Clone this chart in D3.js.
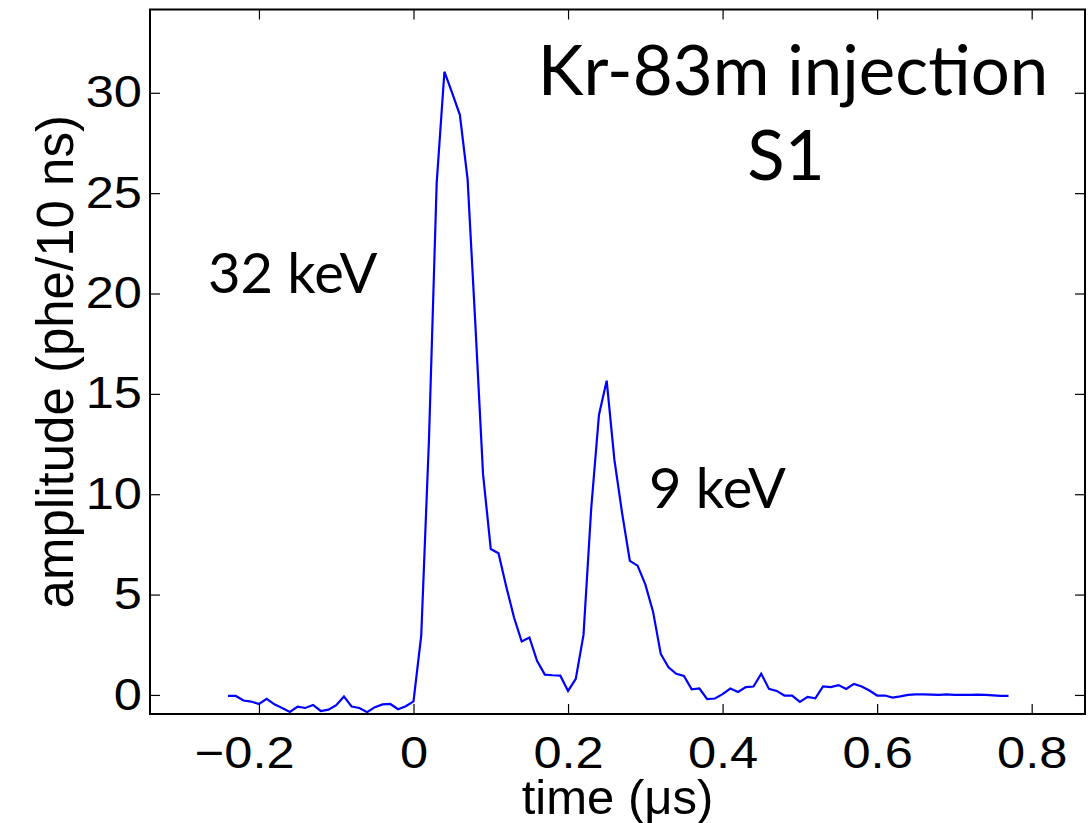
<!DOCTYPE html>
<html>
<head>
<meta charset="utf-8">
<script src="https://cdn.jsdelivr.net/npm/d3@7"></script>
<style>
  html, body { margin: 0; padding: 0; background: #fff; }
  svg { display: block; }
</style>
</head>
<body>
<svg id="chart" width="1091" height="823"></svg>
<script>
// Sampled S1 waveform, 10 ns bins (time in microseconds)
const timeUs = [
  -0.24, -0.23, -0.22, -0.21, -0.20, -0.19, -0.18, -0.17, -0.16, -0.15,
  -0.14, -0.13, -0.12, -0.11, -0.10, -0.09, -0.08, -0.07, -0.06, -0.05,
  -0.04, -0.03, -0.02, -0.01, 0.00, 0.01, 0.02, 0.03, 0.04, 0.05,
  0.06, 0.07, 0.08, 0.09, 0.10, 0.11, 0.12, 0.13, 0.14, 0.15,
  0.16, 0.17, 0.18, 0.19, 0.20, 0.21, 0.22, 0.23, 0.24, 0.25,
  0.26, 0.27, 0.28, 0.29, 0.30, 0.31, 0.32, 0.33, 0.34, 0.35,
  0.36, 0.37, 0.38, 0.39, 0.40, 0.41, 0.42, 0.43, 0.44, 0.45,
  0.46, 0.47, 0.48, 0.49, 0.50, 0.51, 0.52, 0.53, 0.54, 0.55,
  0.56, 0.57, 0.58, 0.59, 0.60, 0.61, 0.62, 0.63, 0.64, 0.65,
  0.66, 0.67, 0.68, 0.69, 0.70, 0.71, 0.72, 0.73, 0.74, 0.75,
  0.76, 0.77
];

// Amplitude in phe per 10 ns
const amplitude = [
  -0.05, -0.05, -0.28, -0.33, -0.45, -0.20, -0.47, -0.65, -0.85, -0.58,
  -0.65, -0.50, -0.80, -0.73, -0.51, -0.08, -0.58, -0.65, -0.86, -0.61,
  -0.47, -0.45, -0.71, -0.56, -0.32, 2.95, 12.7, 25.5, 31.05, 30.0,
  28.9, 25.7, 18.5, 11.0, 7.27, 7.06, 5.40, 3.87, 2.66, 2.86,
  1.69, 1.01, 0.98, 0.96, 0.20, 0.80, 2.99, 9.3, 13.95, 15.66,
  11.71, 9.05, 6.68, 6.44, 5.51, 4.15, 2.04, 1.38, 1.05, 0.95,
  0.28, 0.32, -0.21, -0.18, 0.04, 0.32, 0.15, 0.39, 0.42, 1.06,
  0.30, 0.20, -0.03, -0.03, -0.35, -0.10, -0.17, 0.42, 0.39, 0.49,
  0.30, 0.55, 0.42, 0.22, -0.03, -0.03, -0.13, -0.07, 0.00, 0.03,
  0.03, 0.02, 0.00, 0.03, 0.00, 0.00, 0.00, 0.02, 0.00, -0.02,
  -0.05, -0.05
];

const xTicks = [-0.2, 0, 0.2, 0.4, 0.6, 0.8];
const yTicks = [0, 5, 10, 15, 20, 25, 30];
const xDomain = [-0.341, 0.869];
const yDomain = [-0.95, 34.15];

const xLabel = "time (\u03bcs)";
const yLabel = "amplitude (phe/10 ns)";
const titleLines = ["Kr-83m injection", "S1"];
const peakLabels = ["32 keV", "9 keV"];

// Plot frame
const frame = { left: 150, right: 1085, top: 9.5, bottom: 714 };
const tickFont = "'Liberation Sans', Arial, Helvetica, sans-serif";
const noteFont = "Lato, 'Open Sans', sans-serif";
const tickStretch = 1.15;

const svg = d3.select("#chart");

const x = d3.scaleLinear().domain(xDomain).range([frame.left, frame.right]);
const y = d3.scaleLinear().domain(yDomain).range([frame.bottom, frame.top]);

// Waveform trace
const line = d3.line()
  .x(i => x(timeUs[i]))
  .y(i => y(amplitude[i]));

svg.append("path")
  .attr("d", line(d3.range(timeUs.length)))
  .attr("fill", "none")
  .attr("stroke", "#0000ff")
  .attr("stroke-width", 2.2)
  .attr("stroke-linejoin", "miter");

// Axes: ticks point inward on all four sides
function styleAxis(g) {
  g.select(".domain").remove();
  g.selectAll(".tick line").attr("stroke", "#000").attr("stroke-width", 1.2);
  g.selectAll(".tick text")
    .attr("fill", "#000")
    .style("font-family", tickFont)
    .style("font-size", "44px");
}

const fmt = d => (d < 0 ? "\u2212" : "") + String(Math.abs(d));

const gx = svg.append("g")
  .attr("transform", `translate(0,${frame.bottom})`)
  .call(d3.axisBottom(x).tickValues(xTicks).tickFormat(fmt)
    .tickSizeInner(-10).tickSizeOuter(0).tickPadding(23))
  .call(styleAxis);

gx.selectAll(".tick text").attr("transform", `scale(${tickStretch},1)`);
// Keep the digits centred on the tick and let the minus sign hang to the left
gx.selectAll(".tick text").each(function (d) {
  if (d < 0) {
    const full = this.getComputedTextLength();
    const probe = d3.select(this.parentNode).append("text")
      .style("font-family", tickFont).style("font-size", "44px")
      .text(String(Math.abs(d)));
    const bare = probe.node().getComputedTextLength();
    probe.remove();
    d3.select(this).attr("x", -(full - bare) / 2);
  }
});

const gy = svg.append("g")
  .attr("transform", `translate(${frame.left},0)`)
  .call(d3.axisLeft(y).tickValues(yTicks).tickFormat(fmt)
    .tickSizeInner(-10).tickSizeOuter(0).tickPadding(7))
  .call(styleAxis);
gy.selectAll(".tick text").attr("transform", `scale(${tickStretch},1)`);

svg.append("g")
  .attr("transform", `translate(0,${frame.top})`)
  .call(d3.axisTop(x).tickValues(xTicks).tickFormat("")
    .tickSizeInner(-10).tickSizeOuter(0))
  .call(styleAxis);

svg.append("g")
  .attr("transform", `translate(${frame.right},0)`)
  .call(d3.axisRight(y).tickValues(yTicks).tickFormat("")
    .tickSizeInner(-10).tickSizeOuter(0))
  .call(styleAxis);

// Box
svg.append("rect")
  .attr("x", frame.left).attr("y", frame.top)
  .attr("width", frame.right - frame.left)
  .attr("height", frame.bottom - frame.top)
  .attr("fill", "none")
  .attr("stroke", "#000")
  .attr("stroke-width", 2);

// Axis titles
svg.append("text")
  .attr("x", (frame.left + frame.right) / 2)
  .attr("y", 814)
  .attr("text-anchor", "middle")
  .style("font-family", tickFont)
  .style("font-size", "49px")
  .text(xLabel);

svg.append("text")
  .attr("transform", `translate(73,${(frame.top + frame.bottom) / 2}) rotate(-90)`)
  .attr("text-anchor", "middle")
  .style("font-family", tickFont)
  .style("font-size", "51px")
  .text(yLabel);

// Annotations
const notes = svg.append("g").style("font-family", noteFont).attr("fill", "#000");

notes.append("text")
  .attr("x", 793).attr("y", 95)
  .attr("text-anchor", "middle")
  .style("font-size", "69px")
  .text(titleLines[0]);

notes.append("text")
  .attr("x", 786).attr("y", 180)
  .attr("text-anchor", "middle")
  .style("font-size", "69px")
  .text(titleLines[1]);

notes.append("text")
  .attr("x", 208).attr("y", 293)
  .style("font-size", "56px")
  .text(peakLabels[0]);

notes.append("text")
  .attr("x", 649).attr("y", 508)
  .style("font-size", "56px")
  .text(peakLabels[1]);
</script>
</body>
</html>
